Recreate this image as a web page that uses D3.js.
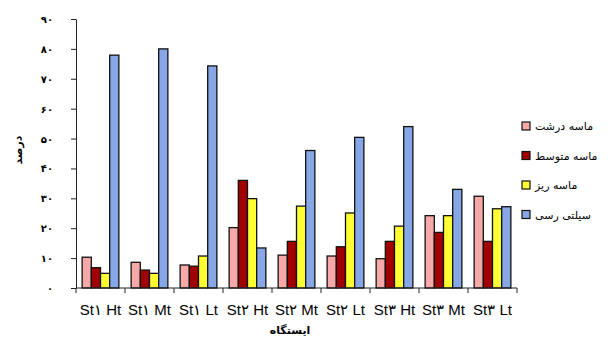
<!DOCTYPE html>
<html>
<head>
<meta charset="utf-8">
<script src="https://cdn.jsdelivr.net/npm/d3@7"></script>
<style>
  body { margin: 0; background: #fff; }
  svg { display: block; }
  .axis path, .axis line { stroke: #222; }
</style>
</head>
<body>
<svg id="chart" width="608" height="338"></svg>
<script>
// stations along the x axis
var stations = ['St۱ Ht', 'St۱ Mt', 'St۱ Lt', 'St۲ Ht', 'St۲ Mt', 'St۲ Lt', 'St۳ Ht', 'St۳ Mt', 'St۳ Lt'];
var seriesNames = ['ماسه درشت', 'ماسه متوسط', 'ماسه ریز', 'سیلتی رسی'];
var seriesColors = ['#f7a9a9', '#a00000', '#ffff33', '#87a7e6'];

// percent values per series, one per station
var coarseSand = [10.3, 8.6, 7.7, 20.2, 11.0, 10.7, 9.8, 24.2, 30.7];
var mediumSand = [6.8, 6.0, 7.3, 36.0, 15.6, 13.8, 15.6, 18.6, 15.6];
var fineSand = [4.9, 4.9, 10.7, 29.9, 27.4, 25.1, 20.7, 24.2, 26.5];
var siltClay = [77.9, 80.0, 74.3, 13.4, 46.0, 50.4, 54.0, 33.0, 27.2];

var yTicks = [0, 10, 20, 30, 40, 50, 60, 70, 80, 90];
var yTickLabels = ['۰', '۱۰', '۲۰', '۳۰', '۴۰', '۵۰', '۶۰', '۷۰', '۸۰', '۹۰'];

var seriesValues = [coarseSand, mediumSand, fineSand, siltClay];

var svg = d3.select('#chart');
var plot = {left: 76, right: 517, top: 19, bottom: 288};

var x0 = d3.scaleBand()
    .domain(stations)
    .range([plot.left, plot.right])
    .paddingInner(0.25)
    .paddingOuter(0.125);

var x1 = d3.scaleBand()
    .domain(d3.range(seriesNames.length))
    .range([0, x0.bandwidth()]);

var y = d3.scaleLinear()
    .domain([0, 90])
    .range([plot.bottom, plot.top]);

// bars
var groups = svg.append('g').selectAll('g')
    .data(stations)
    .enter().append('g')
    .attr('transform', function(d){ return 'translate(' + x0(d) + ',0)'; });

groups.selectAll('rect')
    .data(function(d, i){
        return seriesValues.map(function(vals, s){ return {s: s, v: vals[i]}; });
    })
    .enter().append('rect')
    .attr('x', function(d){ return x1(d.s); })
    .attr('y', function(d){ return y(d.v); })
    .attr('width', x1.bandwidth())
    .attr('height', function(d){ return plot.bottom - y(d.v); })
    .attr('fill', function(d){ return seriesColors[d.s]; })
    .attr('stroke', '#111')
    .attr('stroke-width', 1.3);

// y axis
svg.append('g')
    .attr('class', 'axis')
    .attr('transform', 'translate(' + plot.left + ',0)')
    .call(d3.axisLeft(y).tickValues(yTicks).tickSize(5).tickSizeOuter(0).tickFormat(''));

svg.append('g').selectAll('text')
    .data(yTicks)
    .enter().append('text')
    .attr('x', 53)
    .attr('y', function(d){ return y(d) + 4; })
    .attr('text-anchor', 'end')
    .style('font-family', '"DejaVu Sans", sans-serif')
    .style('font-size', '10px')
    .style('font-weight', 'bold')
    .text(function(d, i){ return yTickLabels[i]; });

// x axis: ticks at group boundaries
var xAxis = svg.append('g')
    .attr('class', 'axis')
    .attr('transform', 'translate(0,' + plot.bottom + ')');
xAxis.append('line')
    .attr('x1', plot.left).attr('x2', plot.right)
    .attr('y1', 0).attr('y2', 0);
xAxis.selectAll('line.tk')
    .data(d3.range(stations.length + 1))
    .enter().append('line')
    .attr('class', 'tk')
    .attr('x1', function(i){ return plot.left + i * x0.step(); })
    .attr('x2', function(i){ return plot.left + i * x0.step(); })
    .attr('y1', 0).attr('y2', 5);

svg.append('g').selectAll('text')
    .data(stations)
    .enter().append('text')
    .attr('x', function(d){ return x0(d) + x0.bandwidth() / 2; })
    .attr('y', 315)
    .attr('text-anchor', 'middle')
    .style('font-family', '"Liberation Sans", Arial, sans-serif')
    .style('font-size', '15px')
    .text(function(d){ return d; });

// axis titles
svg.append('text')
    .attr('transform', 'translate(22,150) rotate(-90)')
    .attr('text-anchor', 'middle')
    .style('font-family', '"DejaVu Sans", sans-serif')
    .style('font-size', '11px')
    .style('font-weight', 'bold')
    .text('درصد');

svg.append('text')
    .attr('x', 290)
    .attr('y', 334)
    .attr('text-anchor', 'middle')
    .style('font-family', '"DejaVu Sans", sans-serif')
    .style('font-size', '11px')
    .style('font-weight', 'bold')
    .text('ایستگاه');

// legend
var legend = svg.append('g').selectAll('g')
    .data(seriesNames)
    .enter().append('g')
    .attr('transform', function(d, i){ return 'translate(522,' + (122 + i * 29.5) + ')'; });

legend.append('rect')
    .attr('width', 8).attr('height', 8)
    .attr('fill', function(d, i){ return seriesColors[i]; })
    .attr('stroke', '#111')
    .attr('stroke-width', 1.2);

legend.append('text')
    .attr('x', 13)
    .attr('y', 8)
    .style('font-family', '"DejaVu Sans", sans-serif')
    .style('font-size', '11px')
    .text(function(d){ return d; });
</script>
</body>
</html>
